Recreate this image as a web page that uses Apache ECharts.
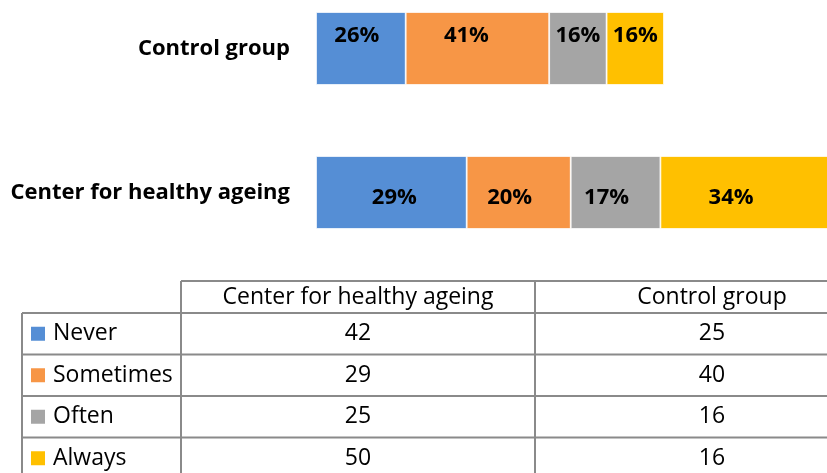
<!DOCTYPE html>
<html>
<head>
<meta charset="utf-8">
<script src="https://cdn.jsdelivr.net/npm/echarts@6/dist/echarts.min.js"></script>
<style>html,body{margin:0;padding:0;background:#fff}#main{width:827px;height:473px}</style>
</head>
<body>
<div id="main"></div>
<script>
var groups = ['Center for healthy ageing', 'Control group'];
var answers = ['Never', 'Sometimes', 'Often', 'Always'];
var never = [42, 25];
var sometimes = [29, 40];
var often = [25, 16];
var always = [50, 16];
var colors = ['#558ED5', '#F79646', '#A5A5A5', '#FFC000'];

var values = [never, sometimes, often, always];
var totals = groups.map(function (g, i) {
	return never[i] + sometimes[i] + often[i] + always[i];
});

// excel doesnt put the labels in the middle, nudge them a bit
var labelOffsets = [
	[[3, 5], [-4, -13]],
	[[-9, 5], [-11, -13]],
	[[-9, 5], [0, -13]],
	[[-19, 5], [0, -13]]
];

var font = '"Open Sans", sans-serif';

var series = answers.map(function (name, s) {
	return {
		name: name,
		type: 'bar',
		stack: 'all',
		barWidth: 73,
		itemStyle: { color: colors[s], borderColor: '#fff', borderWidth: 0.8 },
		label: {
			show: true,
			position: 'inside',
			color: '#000',
			fontFamily: font,
			fontWeight: 'bold',
			fontSize: 22,
			formatter: function (p) {
				return Math.round(p.value / totals[p.dataIndex] * 100) + '%';
			}
		},
		data: values[s].map(function (v, i) {
			return { value: v, label: { offset: labelOffsets[s][i] } };
		})
	};
});

// data table under the bars
var tTop = 281, headH = 32, rowH = 41.5;
var cx0 = 22, cx1 = 181, cx2 = 535, cx3 = 889;
var lineCol = '#8a8a8a';
var bottom = tTop + headH + answers.length * rowH;
var graphics = [];
function hline(y, xa, xb) {
	graphics.push({ type: 'line', shape: { x1: xa, y1: y, x2: xb, y2: y }, style: { stroke: lineCol, lineWidth: 2 } });
}
function vline(x, ya, yb) {
	graphics.push({ type: 'line', shape: { x1: x, y1: ya, x2: x, y2: yb }, style: { stroke: lineCol, lineWidth: 2 } });
}
function txt(t, x, y, align) {
	graphics.push({ type: 'text', style: { text: t, x: x, y: y, fill: '#000', fontSize: 23, fontFamily: font, align: align, verticalAlign: 'middle' } });
}
hline(tTop, cx1, cx3);
for (var r = 0; r <= answers.length; r++) {
	hline(tTop + headH + r * rowH, cx0, cx3);
}
vline(cx0, tTop + headH, bottom);
vline(cx1, tTop, bottom);
vline(cx2, tTop, bottom);
vline(cx3, tTop, bottom);
txt(groups[0], (cx1 + cx2) / 2, tTop + headH / 2, 'center');
txt(groups[1], (cx2 + cx3) / 2, tTop + headH / 2, 'center');
answers.forEach(function (a, r) {
	var yc = tTop + headH + r * rowH + rowH / 2;
	graphics.push({ type: 'rect', shape: { x: 31, y: yc - 7, width: 14, height: 14 }, style: { fill: colors[r] } });
	txt(a, 53, yc, 'left');
	txt(String(values[r][0]), (cx1 + cx2) / 2, yc, 'center');
	txt(String(values[r][1]), (cx2 + cx3) / 2, yc, 'center');
});

var myChart = echarts.init(document.getElementById('main'));
var option = {
	animation: false,
	grid: { left: 316, top: -23.5, width: 574, height: 288, outerBoundsMode: 'none' },
	xAxis: {
		type: 'value',
		min: 0,
		max: 160,
		show: false
	},
	yAxis: {
		type: 'category',
		data: groups,
		axisLine: { show: false },
		axisTick: { show: false },
		axisLabel: { color: '#000', fontFamily: font, fontWeight: 'bold', fontSize: 22, margin: 26 }
	},
	series: series,
	graphic: graphics
};
myChart.setOption(option);
</script>
</body>
</html>
